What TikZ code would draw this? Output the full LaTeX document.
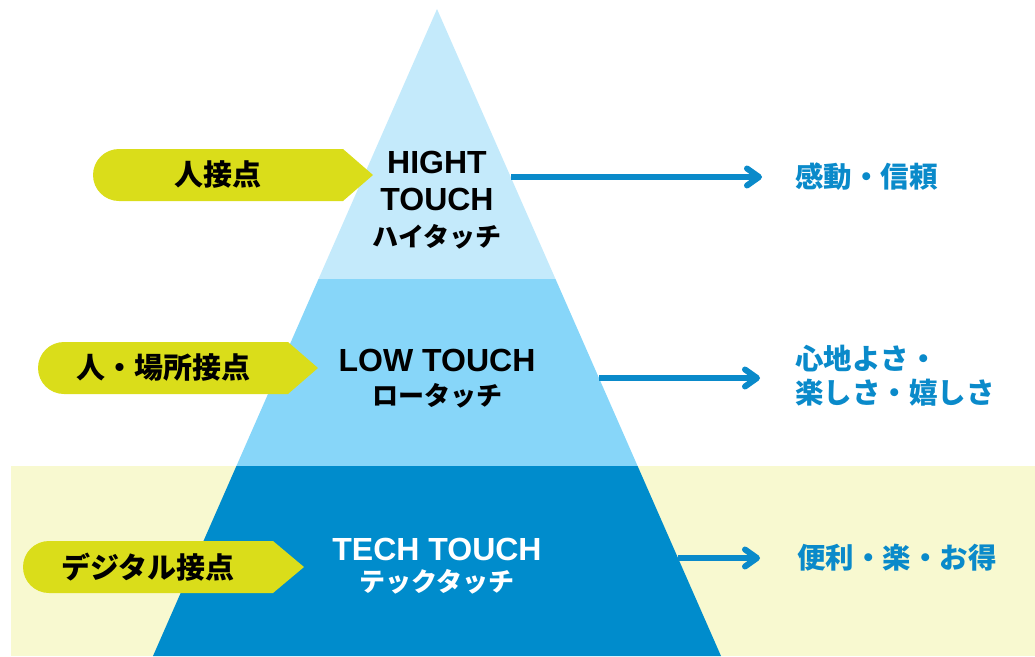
\documentclass[tikz,border=0pt]{standalone}
\usepackage{fontspec}
\setmainfont{Noto Sans CJK JP}
\newfontfamily\latinfont{Liberation Sans}
\usetikzlibrary{arrows.meta}
\definecolor{bgyel}{HTML}{F8F9D0}
\definecolor{bandA}{HTML}{C4EAFB}
\definecolor{bandB}{HTML}{87D6F9}
\definecolor{bandC}{HTML}{008CCC}
\definecolor{lime}{HTML}{DADD1A}
\definecolor{tblue}{HTML}{0A8ACA}
\begin{document}
\begin{tikzpicture}[x=1pt,y=-1pt,
  lbl/.style={inner sep=0pt, font=\fontsize{29}{34}\selectfont\bfseries, text=black},
  ctr/.style={inner sep=0pt, font=\latinfont\fontsize{32}{38}\selectfont\bfseries, text=black},
  kata/.style={inner sep=0pt, font=\fontsize{26}{30}\selectfont\bfseries, text=black},
  rt/.style={inner sep=0pt, anchor=west, align=left, font=\fontsize{28.5}{34}\selectfont\bfseries, text=tblue},
  arr/.style={draw=tblue, line width=6pt, -{Straight Barb[round, length=12pt, width=17pt]}},
  tag/.style={fill=lime}
]
\useasboundingbox (0,0) rectangle (1035,656);
\fill[bgyel] (11,466) rectangle (1035,656);
% pyramid bands
\fill[bandA] (437,9) -- (555.5,279) -- (318.5,279) -- cycle;
\fill[bandB] (318.5,279) -- (555.5,279) -- (637.6,466) -- (236.4,466) -- cycle;
\fill[bandC] (236.4,466) -- (637.6,466) -- (721,656) -- (153,656) -- cycle;
% left tags
\fill[tag] (119,149) -- (343,149) -- (373,175) -- (343,201) -- (119,201) arc[start angle=90, end angle=270, radius=26] -- cycle;
\fill[tag] (64,342) -- (288,342) -- (318,368) -- (288,394) -- (64,394) arc[start angle=90, end angle=270, radius=26] -- cycle;
\fill[tag] (49,541) -- (273,541) -- (304,567) -- (273,593) -- (49,593) arc[start angle=90, end angle=270, radius=26] -- cycle;
\node[lbl] (l1) at (218,175) {人接点};
\node[lbl] (l2) at (163,368) {人・場所接点};
\node[lbl] (l3) at (148,567) {デジタル接点};
% centre texts
\node[ctr] (h1) at (437,162) {HIGHT};
\node[ctr] (h2) at (437,199) {TOUCH};
\node[kata] (h3) at (437,237) {ハイタッチ};
\node[ctr] (m1) at (437,360) {LOW TOUCH};
\node[kata] (m2) at (437,396) {ロータッチ};
\node[ctr, text=white] (b1) at (437,549) {TECH TOUCH};
\node[kata, text=white] (b2) at (437,582) {テックタッチ};
% right texts
\node[rt] (r1) at (795,177) {感動・信頼};
\node[rt] (r2) at (795,376) {心地よさ・\\楽しさ・嬉しさ};
\node[rt] (r3) at (797,558) {便利・楽・お得};
% arrow starts on the right edge of the pyramid
\coordinate (e1) at (511,177);
\coordinate (e2) at (599,378);
\coordinate (e3) at (678,558);
\coordinate (f1) at (762,177);
\coordinate (f2) at (760,378);
\coordinate (f3) at (760,558);
\draw[arr] (e1) -- (f1);
\draw[arr] (e2) -- (f2);
\draw[arr] (e3) -- (f3);
\end{tikzpicture}
\end{document}
